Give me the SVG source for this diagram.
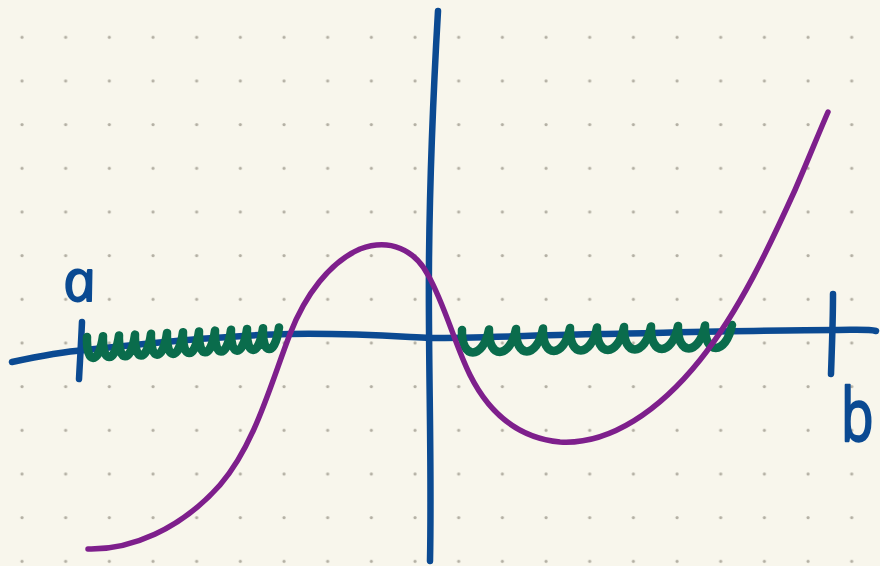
<svg xmlns="http://www.w3.org/2000/svg" width="880" height="566" viewBox="0 0 880 566">
<style>
.axis{fill:none;stroke:#0b4a92;stroke-width:6.5;stroke-linecap:round;stroke-linejoin:round}
.curve{fill:none;stroke:#7e1f8c;stroke-width:5.5;stroke-linecap:round;stroke-linejoin:round}
.sq{fill:none;stroke:#0a6c4c;stroke-width:8.5;stroke-linecap:round;stroke-linejoin:round}
.lbl{font-family:"Open Sans","Noto Sans","DejaVu Sans",sans-serif;fill:#0b4a92;stroke:#0b4a92;stroke-linejoin:round}
</style>
<defs>
<pattern id="dots" x="0" y="0" width="43.67" height="43.67" patternUnits="userSpaceOnUse">
<circle cx="22" cy="37.3" r="1.6" fill="#b2aea2"/>
</pattern>
</defs>
<rect width="880" height="566" fill="#f8f6ec"/>
<rect width="880" height="566" fill="url(#dots)"/>
<g id="axes">
<path class="axis" d="M12,362 C40,356 60,352 85,350 C160,342 230,335 290,334 C350,333 390,336 430,338 C480,338 540,335 600,334 C700,332 780,330 835,330 C855,330 868,329 876,331"/>
<path class="axis" d="M438,11 C434,80 430,160 429,260 C428,360 432,460 430,561"/>
<path class="axis" d="M82,322 C81,345 80,360 79,379"/>
<path class="axis" d="M833,294 C833,320 832,345 831,374"/>
</g>
<g id="squiggles">
<path class="sq" d="M87,337 c-1,28 12,28 16,-0.8 c-1,28 12,28 16,-0.8 c-1,28 12,28 16,-0.8 c-1,28 12,28 16,-0.8 c-1,28 12,28 16,-0.8 c-1,28 12,28 16,-0.8 c-1,28 12,28 16,-0.8 c-1,28 12,28 16,-0.8 c-1,28 12,28 16,-0.8 c-1,28 12,28 16,-0.8 c-1,28 12,28 16,-0.8 c-1,28 12,28 16,-0.8"/>
<path class="sq" d="M462,330 c-1,30 21,30 27,-0.5 c-1,30 21,30 27,-0.5 c-1,30 21,30 27,-0.5 c-1,30 21,30 27,-0.5 c-1,30 21,30 27,-0.5 c-1,30 21,30 27,-0.5 c-1,30 21,30 27,-0.5 c-1,30 21,30 27,-0.5 c-1,30 21,30 27,-0.5 c-1,30 21,30 27,-0.5"/>
</g>
<g id="function">
<path class="curve" d="M88,549 C130,550 180,530 220,485 C255,445 272,380 290,334 C305,295 330,262 360,249 C390,238 415,250 428,275 C445,305 455,345 470,375 C490,415 520,438 560,442 C610,445 660,410 700,360 C740,310 770,245 795,190 C808,160 818,135 828,112"/>
</g>
<g id="labels">
<text class="lbl" x="0" y="0" font-size="58" font-style="italic" stroke-width="1.8" transform="translate(66,301) skewX(11)">a</text>
<text class="lbl" x="0" y="0" font-size="74" stroke-width="2.4" transform="translate(841,441) scale(0.72,1)">b</text>
</g>
</svg>
